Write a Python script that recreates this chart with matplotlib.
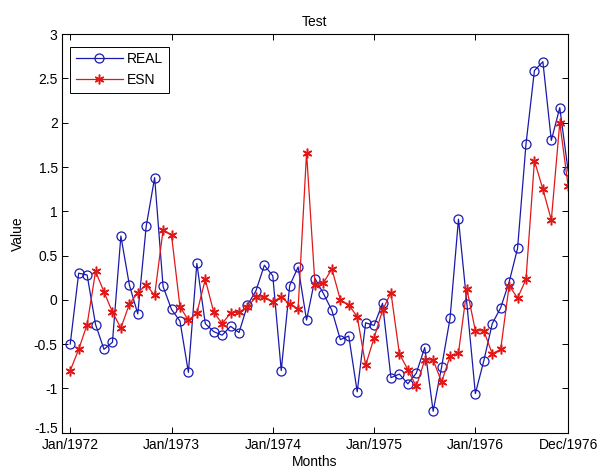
import matplotlib
matplotlib.use("Agg")
import matplotlib.pyplot as plt
import matplotlib.transforms as mtransforms
import numpy as np

plt.rcParams['font.family'] = ['Liberation Sans', 'DejaVu Sans']

# monthly values, Jan/1972 .. Dec/1976
real = [-0.50, 0.30, 0.28, -0.28, -0.56, -0.48, 0.72, 0.17, -0.16, 0.83,
        1.38, 0.15, -0.11, -0.24, -0.82, 0.41, -0.27, -0.36, -0.40, -0.30,
        -0.37, -0.06, 0.10, 0.39, 0.27, -0.80, 0.16, 0.37, -0.23, 0.24,
        0.07, -0.12, -0.45, -0.41, -1.04, -0.26, -0.29, -0.04, -0.88, -0.84,
        -0.95, -0.83, -0.54, -1.26, -0.76, -0.21, 0.91, -0.05, -1.06, -0.69,
        -0.27, -0.09, 0.20, 0.58, 1.76, 2.59, 2.69, 1.80, 2.17, 1.45]
esn = [-0.80, -0.56, -0.28, 0.32, 0.09, -0.14, -0.32, -0.05, 0.08, 0.17,
       0.05, 0.79, 0.73, -0.08, -0.23, -0.15, 0.23, -0.14, -0.27, -0.15,
       -0.14, -0.08, 0.03, 0.03, -0.02, 0.03, -0.05, -0.10, 1.66, 0.17,
       0.19, 0.35, 0.00, -0.06, -0.19, -0.74, -0.43, -0.12, 0.08, -0.61,
       -0.79, -0.98, -0.68, -0.68, -0.93, -0.64, -0.60, 0.12, -0.35, -0.35,
       -0.61, -0.56, 0.16, 0.02, 0.23, 1.57, 1.25, 0.90, 2.00, 1.28]
tick_months = [1, 13, 25, 37, 49, 60]
tick_labels = ['Jan/1972', 'Jan/1973', 'Jan/1974', 'Jan/1975', 'Jan/1976', 'Dec/1976']
yticks = np.arange(-1.5, 3.01, 0.5)

months = np.arange(1, len(real) + 1)

fig = plt.figure(figsize=(6, 4.73), dpi=100)
ax = fig.add_axes([0.103, 0.0856, 0.844, 0.842])

ax.plot(months, real, color='#1a1aa8', linewidth=0.9, marker='o', markersize=6.5,
        markerfacecolor='none', markeredgecolor='#1a1ab4', markeredgewidth=0.9, label='REAL')
# asterisk marker, like matlab's '*'
ax.plot(months, esn, color='#e01818', linewidth=0.9, marker=(6, 2, 0), markersize=7,
        markeredgewidth=1.1, markeredgecolor='#e01818', label='ESN')

ax.set_xlim(0, 60)
ax.set_ylim(-1.5, 3)
ax.set_xticks(tick_months)
ax.set_xticklabels(tick_labels)
ax.set_yticks(yticks)
ax.set_yticklabels(['%g' % v for v in yticks])
ax.tick_params(direction='in', top=True, right=True, length=4, width=0.7,
               labelsize=10)
ax.tick_params(axis='x', pad=4)
ax.tick_params(axis='y', pad=3)
for s in ax.spines.values():
    s.set_linewidth(0.8)

# nudge the bottom y label up a bit so it clears Jan/1972
lab = ax.get_yticklabels()[0]
lab.set_transform(lab.get_transform() +
                  mtransforms.ScaledTranslation(0, 3.5 / 72, fig.dpi_scale_trans))

ax.set_title('Test', fontsize=10, pad=6)
ax.set_xlabel('Months', fontsize=10, labelpad=2)
ax.set_ylabel('Value', fontsize=10, labelpad=6)

leg = ax.legend(loc='upper left', bbox_to_anchor=(0.0, 0.99), fontsize=10,
                handlelength=3.4, fancybox=False, framealpha=1, edgecolor='black',
                borderaxespad=0.6, labelspacing=0.5, handletextpad=0.3, borderpad=0.4)
leg.get_frame().set_linewidth(0.7)

fig.savefig('out.png', dpi=100)
